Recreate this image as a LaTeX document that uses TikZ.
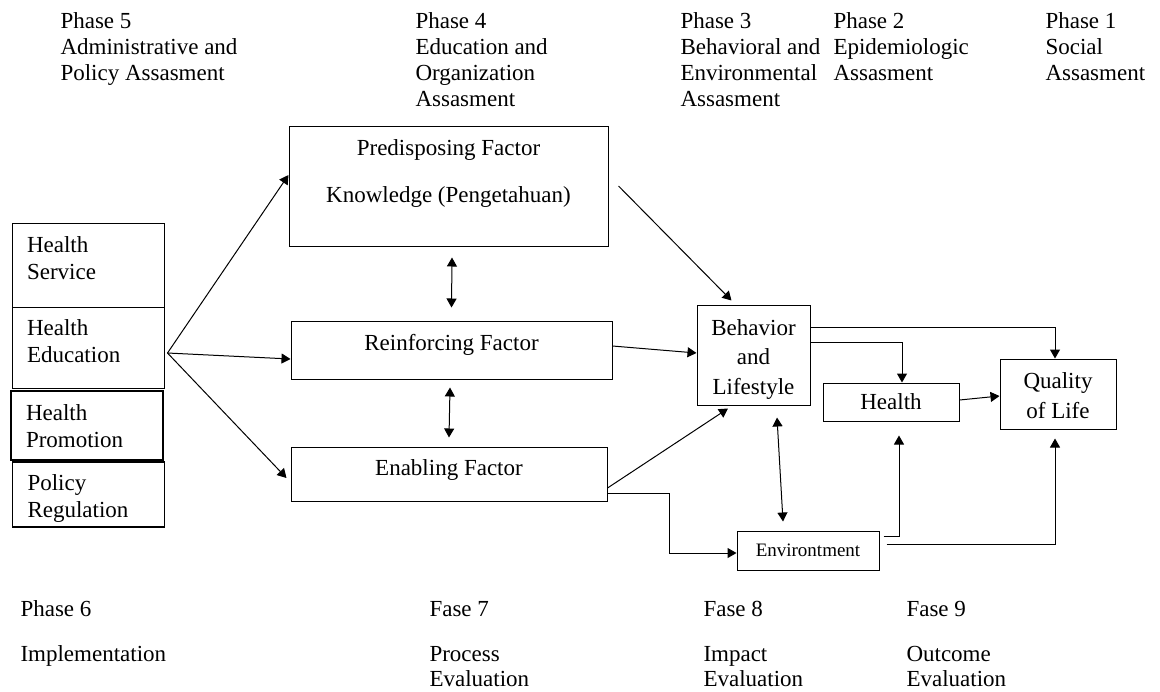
\documentclass[tikz,border=0pt]{standalone}
\usepackage{fontspec}
\setmainfont{Liberation Serif}
\usetikzlibrary{arrows.meta,positioning}

\begin{document}
\begin{tikzpicture}[x=0.5pt, y=-0.5pt, line width=0.5pt,
        >={Triangle[length=4.5pt,width=5pt]},
        every node/.style={font=\fontsize{11.5pt}{13.5pt}\selectfont},
        box/.style={draw, inner sep=0pt, align=center},
        stackbox/.style={draw, inner xsep=7.5pt, inner ysep=0pt, text width=61pt,
            align=left, minimum width=76pt, text height=8pt},
        phase/.style={anchor=north west, inner sep=0pt, align=left,
            font=\fontsize{11.5pt}{13pt}\selectfont},
        evalphase/.style={phase, font=\fontsize{11.5pt}{12.5pt}\selectfont}]
        \useasboundingbox (0,0) rectangle (1160,691);

        \draw (88,265) node[stackbox, minimum height=42pt, text depth=21pt] (serv) {Health\\Service};
        \draw (88,347.5) node[stackbox, minimum height=40.5pt, text depth=20.5pt] (edu) {Health\\Education};
        \draw (87,425.5) node[stackbox, minimum height=34.5pt, text depth=13.5pt,
            line width=1pt] (promo) {Health\\Promotion};
        \draw (88.5,494.5) node[stackbox, minimum height=32.5pt, text depth=12.5pt,
            line width=0.9pt] (policy) {Policy\\Regulation};

        \draw (448.5,186) node[box, minimum width=159.5pt, minimum height=60pt,
            text height=31.5pt, text depth=15.5pt] (pre) {Predisposing Factor\\[10pt]Knowledge (Pengetahuan)};
        \draw (451.5,350) node[box, minimum width=160.5pt, minimum height=29pt,
            text height=8pt, text depth=8pt] (rein) {Reinforcing Factor};
        \draw (449,474) node[box, minimum width=158pt, minimum height=27pt,
            text height=8pt, text depth=7pt] (enab) {Enabling Factor};

        \draw (753.5,355) node[box, minimum width=56.5pt, minimum height=50pt,
            text height=40.5pt, text depth=1.5pt] (beh) {Behavior\\[1.25pt]and\\[1.25pt]Lifestyle};
        \draw (891,402) node[box, minimum width=68pt, minimum height=19pt] (hlth) {Health};
        \draw (1058,394) node[box, minimum width=58pt, minimum height=35pt,
            text height=24pt, text depth=0pt] (qol) {Quality\\[1.5pt]of Life};
        \draw (808,550.5) node[box, minimum width=71pt, minimum height=19.5pt,
            font=\fontsize{9.5pt}{11pt}\selectfont] (env) {Environtment};

        \coordinate (hub) at ([xshift=1.5pt,yshift=-2.75pt]edu.east);
        \draw[->] (hub) -- ([yshift=5.5pt]pre.west);
        \draw[->] (hub) -- ([yshift=-4.5pt]rein.west);
        \draw[->] (hub) -- ([xshift=-2pt,yshift=-2pt]enab.west);

        \draw[<->] ([xshift=1.75pt,yshift=-5.5pt]pre.south) -- ([yshift=6.5pt]rein.north);
        \draw[<->] ([xshift=-0.75pt,yshift=-4pt]rein.south) -- ([yshift=4.5pt]enab.north);

        \draw[->] ([xshift=5pt]pre.east) -- ([xshift=-11pt,yshift=2pt]beh.north);
        \draw[->] ([yshift=2pt]rein.east) -- ([yshift=1pt]beh.west);
        \draw[->] ([yshift=-7pt]enab.east) -- ([xshift=-12.75pt,yshift=-1.5pt]beh.south);
        \coordinate (kink) at (669,553);
        \draw[->] ([yshift=-9.5pt]enab.east) -| (kink) -- ([yshift=-1.25pt]env.west);

        \draw[->] ([yshift=14pt]beh.east) -| ([xshift=-1.5pt]qol.north);
        \draw[->] ([yshift=6.5pt]beh.east) -| ([xshift=5.5pt]hlth.north);
        \draw[->] ([yshift=1pt]hlth.east) -- ([yshift=-1pt]qol.west);
        \draw[<->] ([xshift=11.75pt,yshift=-6pt]beh.south) -- ([xshift=-12.5pt,yshift=4.5pt]env.north);
        \draw[->] ([xshift=2pt,yshift=7.25pt]env.east) -| ([xshift=4pt,yshift=-7pt]hlth.south);
        \draw[->] ([xshift=3.5pt,yshift=3.25pt]env.east) -| ([xshift=-1.5pt,yshift=-4.5pt]qol.south);

        \draw (60,12) node[phase] (ph5) {Phase 5\\Administrative and\\Policy Assasment};
        \draw (415,12) node[phase] (ph4) {Phase 4\\Education and\\Organization\\Assasment};
        \draw (680,12) node[phase] (ph3) {Phase 3\\Behavioral and\\Environmental\\Assasment};
        \draw (833,12) node[phase] (ph2) {Phase 2\\Epidemiologic\\Assasment};
        \draw (1045,12) node[phase] (ph1) {Phase 1\\Social\\Assasment};

        \draw (20,600) node[evalphase] (ph6) {Phase 6\\[10pt]Implementation};
        \draw (429,601) node[evalphase] (ph7) {Fase 7\\[10pt]Process\\Evaluation};
        \draw (703,601) node[evalphase] (ph8) {Fase 8\\[10pt]Impact\\Evaluation};
        \draw (906,601) node[evalphase] (ph9) {Fase 9\\[10pt]Outcome\\Evaluation};

    \end{tikzpicture}
\end{document}
